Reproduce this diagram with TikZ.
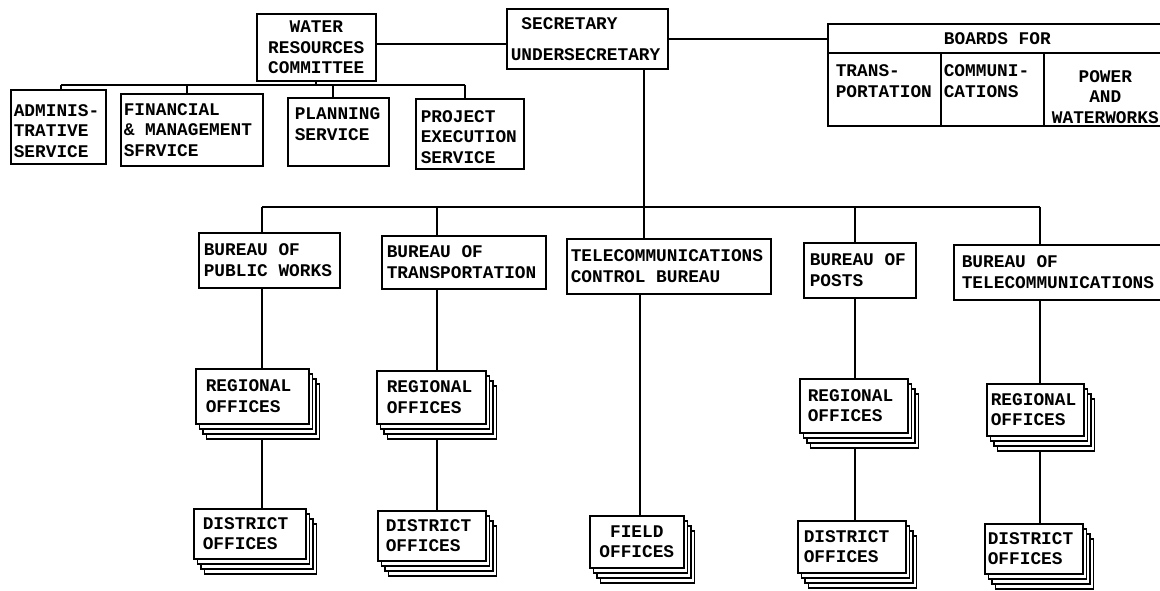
\documentclass[tikz,border=0pt]{standalone}
\usepackage{fontspec}
\setmonofont{Liberation Mono}
\usetikzlibrary{backgrounds,shadows}
\newcommand{\lw}{1.6pt}
\newcommand{\boxfont}{\ttfamily\bfseries\fontsize{17.8}{20.5}\selectfont}

\begin{document}
\begin{tikzpicture}[x=1pt, y=-1pt,
    link/.style={line width=2.2pt},
    rect/.style={draw, rectangle, anchor=north west, line width=\lw, fill=white, inner xsep=4pt, inner ysep=0pt, align=left, font=\boxfont,
        execute at begin node={\spaceskip=0.6em\relax}},
    pile/.style={rect,
        general shadow={shadow xshift=10.5pt, shadow yshift=-15pt, fill=white, draw=black, line width=\lw},
        general shadow={shadow xshift=7pt, shadow yshift=-10pt, fill=white, draw=black, line width=\lw},
        general shadow={shadow xshift=3.5pt, shadow yshift=-5pt, fill=white, draw=black, line width=\lw}}]
    \useasboundingbox (0,0) rectangle (1160,591);

    % Top row
    \node[rect, text width=111pt, minimum height=67pt, align=center] (water) at (256,13) {WATER\\RESOURCES\\COMMITTEE};
    \node[rect, text width=153pt, minimum height=60pt] (secretary) at (506,8) {\phantom{U}SECRETARY\\[10.5pt]UNDERSECRETARY};
    \node[rect, text width=331pt, minimum height=29pt, align=center] (boards) at (827,23) {BOARDS FOR};
    \node[rect, inner xsep=8pt, text width=97pt, minimum height=73pt, text depth=37pt] (board-trans) at (827,52) {TRANS-\\PORTATION};
    \node[rect, inner xsep=3pt, text width=97pt, minimum height=73pt, text depth=37pt] (board-comm) at (940,52) {COMMUNI-\\CATIONS};
    \node[rect, text width=115pt, minimum height=73pt, text depth=26pt, align=center] (board-power) at (1043,52) {POWER\\AND\\WATERWORKS};

    % Services of the committee
    \node[rect, inner xsep=3pt, text width=89pt, minimum height=74pt, text depth=33pt] (svc-admin) at (10,89) {ADMINIS-\\TRATIVE\\SERVICE};
    \node[rect, inner xsep=3pt, text width=136pt, minimum height=72pt] (svc-fin) at (120,93) {FINANCIAL\\\& MANAGEMENT\\SFRVICE};
    \node[rect, inner xsep=7pt, text width=87pt, minimum height=68pt, text depth=36pt] (svc-plan) at (287,97) {PLANNING\\SERVICE};
    \node[rect, inner xsep=5pt, text width=98pt, minimum height=70pt, text depth=35pt] (svc-proj) at (415,98) {PROJECT\\EXECUTION\\SERVICE};

    % Bureaus
    \node[rect, inner xsep=5pt, text width=131pt, minimum height=55pt] (bur-pw) at (198,232) {BUREAU OF\\PUBLIC WORKS};
    \node[rect, inner xsep=5pt, text width=154pt, minimum height=53pt] (bur-tr) at (381,235) {BUREAU OF\\TRANSPORTATION};
    \node[rect, text width=196pt, minimum height=55pt] (bur-tcb) at (566,238) {TELECOMMUNICATIONS\\CONTROL BUREAU};
    \node[rect, inner xsep=6pt, text width=100pt, minimum height=55pt] (bur-po) at (803,242) {BUREAU OF\\POSTS};
    \node[rect, inner xsep=8pt, text width=197pt, minimum height=55pt] (bur-te) at (953,244) {BUREAU OF\\TELECOMMUNICATIONS};

    % Regional offices
    \node[pile, inner xsep=10pt, text width=93pt, minimum height=55pt] (reg-pw) at (195,368) {REGIONAL\\OFFICES};
    \node[pile, inner xsep=10pt, text width=89pt, minimum height=53pt] (reg-tr) at (376,370) {REGIONAL\\OFFICES};
    \node[pile, inner xsep=8pt, text width=92pt, minimum height=54pt] (reg-po) at (799,378) {REGIONAL\\OFFICES};
    \node[pile, text width=89pt, minimum height=52pt] (reg-te) at (986,383) {REGIONAL\\OFFICES};

    % District and field offices
    \node[pile, inner xsep=9pt, text width=94pt, minimum height=50pt] (dist-pw) at (193,508) {DISTRICT\\OFFICES};
    \node[pile, inner xsep=8pt, text width=92pt, minimum height=50pt] (dist-tr) at (377,510) {DISTRICT\\OFFICES};
    \node[pile, text width=86pt, minimum height=52pt, align=center] (field) at (589,515) {FIELD\\OFFICES};
    \node[pile, inner xsep=6pt, text width=96pt, minimum height=52pt] (dist-po) at (797,520) {DISTRICT\\OFFICES};
    \node[pile, inner xsep=3pt, text width=92pt, minimum height=50pt] (dist-te) at (984,523) {DISTRICT\\OFFICES};

    \begin{scope}[on background layer={link}]
        % Committee line
        \coordinate (w-link) at ([yshift=3.5pt]water.east);
        \draw (w-link) -- (w-link -| secretary.west);
        \draw (secretary.east) -- (secretary.east -| boards.west);
        \coordinate (w-admin) at (61,85);
        \coordinate (w-fin) at (187,85);
        \coordinate (w-plan) at (333,85);
        \coordinate (w-proj) at (465,85);
        \draw (w-admin) -- (w-proj);
        \draw (water.south) -- (water.south |- w-admin);
        \draw (w-admin) -- (svc-admin.north -| w-admin);
        \draw (w-fin) -- (svc-fin.north -| w-fin);
        \draw (w-plan) -- (svc-plan.north -| w-plan);
        \draw (w-proj) -- (svc-proj.north -| w-proj);

        % Bureau line
        \coordinate (c-pw) at (262,207);
        \coordinate (c-tr) at (437,207);
        \coordinate (c-tcb) at (644,207);
        \coordinate (c-po) at (855,207);
        \coordinate (c-te) at (1040,207);
        \coordinate (c-fo) at (640,293);
        \draw (c-pw) -- (c-te);
        \draw (secretary.south -| c-tcb) -- (bur-tcb.north -| c-tcb);
        \draw (c-pw) -- (bur-pw.north -| c-pw);
        \draw (c-tr) -- (bur-tr.north -| c-tr);
        \draw (c-po) -- (bur-po.north -| c-po);
        \draw (c-te) -- (bur-te.north -| c-te);

        % Offices
        \draw (bur-pw.south -| c-pw) -- (reg-pw.north -| c-pw);
        \draw (reg-pw.south -| c-pw) -- (dist-pw.north -| c-pw);
        \draw (bur-tr.south -| c-tr) -- (reg-tr.north -| c-tr);
        \draw (reg-tr.south -| c-tr) -- (dist-tr.north -| c-tr);
        \draw (bur-tcb.south -| c-fo) -- (field.north -| c-fo);
        \draw (bur-po.south -| c-po) -- (reg-po.north -| c-po);
        \draw (reg-po.south -| c-po) -- (dist-po.north -| c-po);
        \draw (bur-te.south -| c-te) -- (reg-te.north -| c-te);
        \draw (reg-te.south -| c-te) -- (dist-te.north -| c-te);
    \end{scope}
\end{tikzpicture}
\end{document}
